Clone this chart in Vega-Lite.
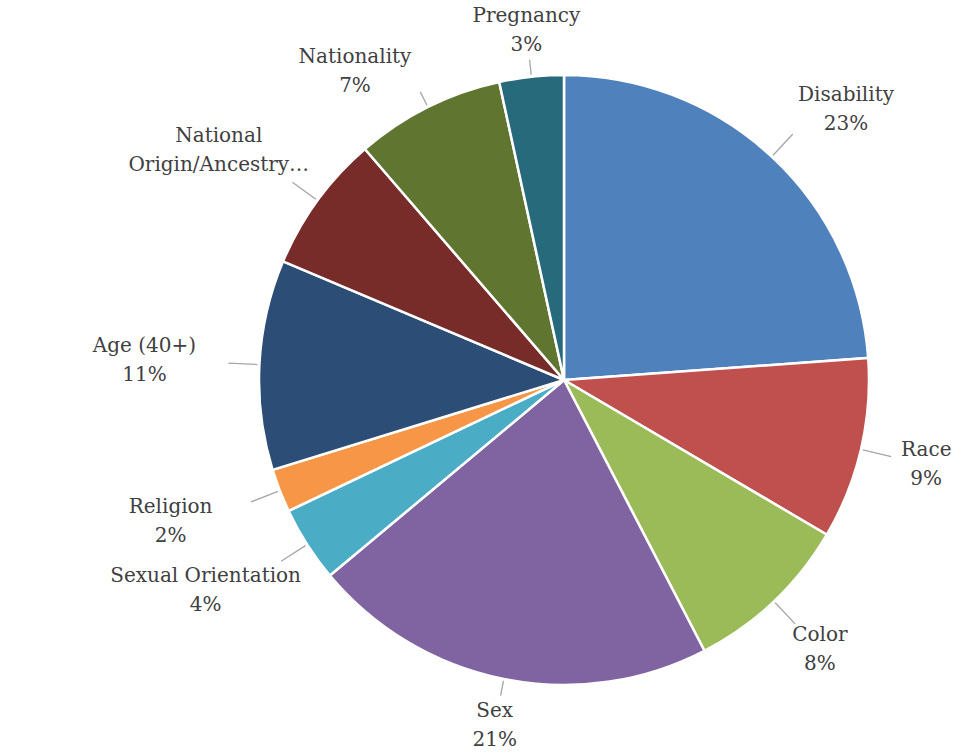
{
  "$schema": "https://vega.github.io/schema/vega-lite/v6.json",
  "width": 800,
  "height": 748,
  "autosize": {"type": "none"},
  "padding": {"left": 164, "top": 6, "right": 0, "bottom": 0},
  "background": "white",
  "view": {"stroke": null},
  "config": {"font": "DejaVu Serif"},
  "data": {
    "values": [
      {"rank": 1, "category": "Disability", "share": 23.8, "label": "Disability\n23%"},
      {"rank": 2, "category": "Race", "share": 9.6, "label": "Race\n9%"},
      {"rank": 3, "category": "Color", "share": 8.9, "label": "Color\n8%"},
      {"rank": 4, "category": "Sex", "share": 21.5, "label": "Sex\n21%"},
      {"rank": 5, "category": "Sexual Orientation", "share": 4.0, "label": "Sexual Orientation\n4%"},
      {"rank": 6, "category": "Religion", "share": 2.3, "label": "Religion\n2%"},
      {"rank": 7, "category": "Age (40+)", "share": 11.1, "label": "Age (40+)\n11%"},
      {"rank": 8, "category": "National Origin/Ancestry", "share": 7.3, "label": "National\nOrigin/Ancestry…"},
      {"rank": 9, "category": "Nationality", "share": 7.9, "label": "Nationality\n7%"},
      {"rank": 10, "category": "Pregnancy", "share": 3.4, "label": "Pregnancy\n3%"}
    ]
  },
  "encoding": {
    "theta": {"field": "share", "type": "quantitative", "stack": true},
    "order": {"field": "rank", "type": "quantitative"}
  },
  "layer": [
    {
      "mark": {"type": "arc", "outerRadius": 305, "stroke": "white", "strokeWidth": 2.5},
      "encoding": {
        "color": {
          "field": "category",
          "type": "nominal",
          "scale": {
            "domain": ["Disability", "Race", "Color", "Sex", "Sexual Orientation", "Religion", "Age (40+)", "National Origin/Ancestry", "Nationality", "Pregnancy"],
            "range": ["#4F81BD", "#C0504D", "#9BBB59", "#8064A2", "#4BACC6", "#F79646", "#2C4D75", "#772C2A", "#5F7530", "#276A7C"]
          },
          "legend": null
        }
      }
    },
    {
      "mark": {"type": "arc", "radius": 336, "radius2": 307, "padAngle": 3, "fillOpacity": 0, "stroke": "#A6A6A6", "strokeWidth": 1.3},
      "encoding": {
        "strokeOpacity": {"condition": {"test": "indexof(['Sex','Pregnancy','Nationality'], datum.category) < 0", "value": 1}, "value": 0}
      }
    },
    {
      "mark": {"type": "arc", "radius": 322, "radius2": 307, "padAngle": 3, "fillOpacity": 0, "stroke": "#A6A6A6", "strokeWidth": 1.3},
      "encoding": {
        "strokeOpacity": {"condition": {"test": "indexof(['Sex','Pregnancy','Nationality'], datum.category) >= 0", "value": 1}, "value": 0}
      }
    },
    {
      "mark": {"type": "text", "radius": 370, "dx": 30, "dy": -14.5, "lineBreak": "\n", "fontSize": 20, "lineHeight": 29, "color": "#404040", "align": "center", "baseline": "middle"},
      "encoding": {
        "text": {"condition": {"test": "datum.category === 'Disability'", "field": "label"}, "value": ""}
      }
    },
    {
      "mark": {"type": "text", "radius": 372, "dy": -14.5, "lineBreak": "\n", "fontSize": 20, "lineHeight": 29, "color": "#404040", "align": "center", "baseline": "middle"},
      "encoding": {
        "text": {"condition": {"test": "indexof(['Race','Color'], datum.category) >= 0", "field": "label"}, "value": ""}
      }
    },
    {
      "mark": {"type": "text", "radius": 352, "dy": -14.5, "lineBreak": "\n", "fontSize": 20, "lineHeight": 29, "color": "#404040", "align": "center", "baseline": "middle"},
      "encoding": {
        "text": {"condition": {"test": "indexof(['Sex','Pregnancy'], datum.category) >= 0", "field": "label"}, "value": ""}
      }
    },
    {
      "mark": {"type": "text", "radius": 390, "dx": -30, "dy": -14.5, "lineBreak": "\n", "fontSize": 20, "lineHeight": 29, "color": "#404040", "align": "center", "baseline": "middle"},
      "encoding": {
        "text": {"condition": {"test": "indexof(['Sexual Orientation','Religion','Age (40+)','National Origin/Ancestry'], datum.category) >= 0", "field": "label"}, "value": ""}
      }
    },
    {
      "mark": {"type": "text", "radius": 345, "dx": -55, "dy": -14.5, "lineBreak": "\n", "fontSize": 20, "lineHeight": 29, "color": "#404040", "align": "center", "baseline": "middle"},
      "encoding": {
        "text": {"condition": {"test": "datum.category === 'Nationality'", "field": "label"}, "value": ""}
      }
    }
  ]
}
